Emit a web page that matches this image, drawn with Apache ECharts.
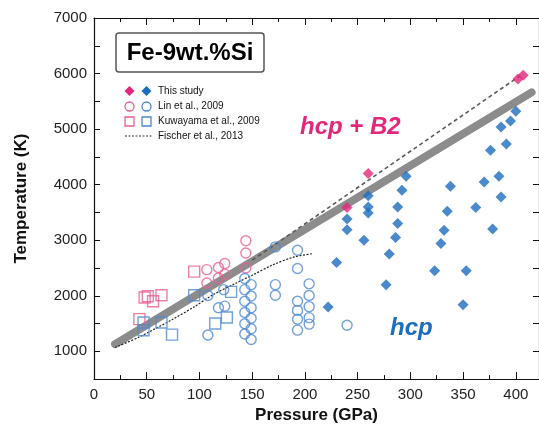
<!DOCTYPE html>
<html>
<head>
<meta charset="utf-8">
<script src="https://cdn.jsdelivr.net/npm/echarts@6/dist/echarts.min.js"></script>
<style>
  html, body { margin: 0; padding: 0; background: #fff; }
  #main { width: 539px; height: 429px; }
</style>
</head>
<body>
<div id="main"></div>
<script>
// pressure (GPa), temperature (K)
var thisStudyB2 = [[240, 3590], [260, 4200], [402, 5900], [407, 5970]];
var thisStudyHcp = [
  [240, 3380], [240, 3190], [260, 3800], [260, 3490], [260, 3600], [256, 3000], [230, 2600], [222, 1800],
  [296, 4150], [292, 3900], [288, 3600], [288, 3300], [286, 3050], [280, 2750], [277, 2200],
  [338, 3970], [335, 3520], [332, 3180], [329, 2940], [323, 2450], [353, 2450], [350, 1840],
  [362, 3590], [370, 4050], [378, 3200], [376, 4620], [384, 4150], [386, 3780],
  [386, 5040], [391, 4730], [395, 5145], [400, 5320]
];
var linB2 = [[107, 2470], [118, 2510], [124, 2580], [107, 2230], [118, 2320], [124, 2390], [144, 2990], [144, 2770], [144, 2500]];
var linHcp = [
  [108, 2005], [123, 2110], [118, 1783], [124, 1813], [108, 1295],
  [143, 2310], [143, 2110], [143, 1902], [143, 1700], [143, 1495], [143, 1311],
  [149, 2200], [149, 1995], [149, 1785], [149, 1595], [149, 1405], [149, 1212],
  [172, 2880], [172, 2200], [172, 2010],
  [193, 2820], [193, 2490], [193, 1900], [193, 1737], [193, 1577], [193, 1382],
  [204, 2215], [204, 2005], [204, 1805], [204, 1606], [204, 1490],
  [240, 1470]
];
var kuwB2 = [[95, 2435], [48, 1970], [51, 1990], [56, 1900], [64, 2010], [43, 1580]];
var kuwHcp = [[47, 1520], [47, 1380], [64, 1520], [74, 1300], [95, 2010], [130, 2070], [126, 1610], [115, 1500]];
var fischer = [[20, 1070], [42, 1250], [74, 1570], [95, 1800], [113, 2020], [135, 2230], [150, 2370], [170, 2560], [190, 2700], [208, 2760]];
var boundary = [[20, 1130], [415, 5660]];
var boundaryB2 = [[150, 2640], [404, 5960]];

var pink = '#e3287b';
var blue = '#1d6cbd';
var pinkOpen = '#ea5f93';
var blueOpen = '#4d88d2';
var font = 'Liberation Sans, Arial, Helvetica, sans-serif';

var myChart = echarts.init(document.getElementById('main'));

function openSeries(name, data, symbol, color, size) {
  return {
    name: name,
    type: 'scatter',
    data: data,
    symbol: symbol,
    symbolSize: size,
    itemStyle: { color: 'rgba(0,0,0,0)', borderColor: color, borderWidth: 1.4 },
    z: 4
  };
}

// legend drawn by hand (two symbol columns)
var lx1 = 129.5, lx2 = 146.5, ltx = 158;
var rows = [91, 106.5, 121.5, 136];
function diamond(cx, cy, r, color) {
  return { type: 'polygon', shape: { points: [[cx, cy - r], [cx + r, cy], [cx, cy + r], [cx - r, cy]] }, style: { fill: color } };
}
function legendText(y, t) {
  return { type: 'text', x: ltx, y: y, style: { text: t, font: '10px ' + font, fill: '#111', textVerticalAlign: 'middle' } };
}

myChart.setOption({
  animation: false,
  textStyle: { fontFamily: font },
  grid: { left: 94, top: 18, right: 0, bottom: 44 },
  xAxis: [{
    type: 'value', min: 0, max: 422, interval: 50, position: 'bottom',
    name: 'Pressure (GPa)', nameLocation: 'middle', nameGap: 27,
    nameTextStyle: { fontSize: 17, fontWeight: 'bold', color: '#111' },
    axisLine: { onZero: false, lineStyle: { color: '#111', width: 1.2 } },
    axisTick: { inside: true, length: 7, lineStyle: { color: '#111' } },
    minorTick: { show: true, splitNumber: 2, length: 4, lineStyle: { color: '#111' } },
    axisLabel: { margin: 8, fontSize: 15, color: '#222', showMaxLabel: false },
    splitLine: { show: false }
  }, {
    type: 'value', min: 0, max: 422, interval: 50, position: 'top',
    axisLine: { onZero: false, lineStyle: { color: '#111', width: 1.2 } },
    axisTick: { inside: true, length: 7, lineStyle: { color: '#111' } },
    minorTick: { show: true, splitNumber: 2, length: 4, lineStyle: { color: '#111' } },
    axisLabel: { show: false },
    splitLine: { show: false }
  }],
  yAxis: [{
    type: 'value', min: 500, max: 7000, interval: 500, position: 'left',
    name: 'Temperature (K)', nameLocation: 'middle', nameGap: 64, nameRotate: 90,
    nameTextStyle: { fontSize: 17, fontWeight: 'bold', color: '#111' },
    axisLine: { show: true, onZero: false, lineStyle: { color: '#111', width: 1.2 } },
    axisTick: { show: true, inside: true, length: 6, lineStyle: { color: '#111' } },
    axisLabel: {
      margin: 7, fontSize: 15, color: '#222',
      formatter: function (v) { return v % 1000 === 0 ? String(v) : ''; }
    },
    splitLine: { show: false }
  }, {
    type: 'value', min: 500, max: 7000, interval: 500, position: 'right',
    axisLine: { show: true, onZero: false, lineStyle: { color: '#111', width: 1.2 } },
    axisTick: { show: true, inside: true, length: 6, lineStyle: { color: '#111' } },
    axisLabel: { show: false },
    splitLine: { show: false }
  }],
  series: [{
    name: 'Boundary',
    type: 'line',
    data: boundary,
    symbol: 'none',
    lineStyle: { color: '#8c8c8c', width: 8, cap: 'round' },
    z: 2
  }, {
    name: 'Boundary B2',
    type: 'line',
    data: boundaryB2,
    symbol: 'none',
    lineStyle: { color: '#5a5a5a', width: 1.6, type: [4, 3] },
    z: 3
  }, {
    name: 'Fischer et al., 2013',
    type: 'line',
    data: fischer,
    symbol: 'none',
    smooth: 0.3,
    lineStyle: { color: '#222', width: 1.2, type: [2, 1.5] },
    z: 3
  },
    openSeries('Kuwayama et al., 2009 (B2)', kuwB2, 'rect', pinkOpen, 11),
    openSeries('Kuwayama et al., 2009', kuwHcp, 'rect', blueOpen, 11),
    openSeries('Lin et al., 2009 (B2)', linB2, 'circle', pinkOpen, 10),
    openSeries('Lin et al., 2009', linHcp, 'circle', blueOpen, 10),
  {
    name: 'This study (B2)',
    type: 'scatter',
    data: thisStudyB2,
    symbol: 'diamond',
    symbolSize: 11,
    itemStyle: { color: pink },
    z: 6
  }, {
    name: 'This study',
    type: 'scatter',
    data: thisStudyHcp,
    symbol: 'diamond',
    symbolSize: 11,
    itemStyle: { color: blue },
    z: 5
  }],
  graphic: [
    { type: 'rect', shape: { x: 116, y: 33, width: 148, height: 39, r: 3 }, style: { fill: '#fff', stroke: '#555', lineWidth: 1.5 }, z: 10 },
    { type: 'text', x: 190, y: 53, style: { text: 'Fe-9wt.%Si', font: 'bold 24px ' + font, fill: '#000', textAlign: 'center', textVerticalAlign: 'middle' }, z: 11 },
    diamond(lx1, rows[0], 5, pink),
    diamond(lx2, rows[0], 5, blue),
    { type: 'circle', shape: { cx: lx1, cy: rows[1], r: 4.5 }, style: { fill: 'none', stroke: pinkOpen, lineWidth: 1.3 } },
    { type: 'circle', shape: { cx: lx2, cy: rows[1], r: 4.5 }, style: { fill: 'none', stroke: blueOpen, lineWidth: 1.3 } },
    { type: 'rect', shape: { x: lx1 - 4.5, y: rows[2] - 4.5, width: 9, height: 9 }, style: { fill: 'none', stroke: pinkOpen, lineWidth: 1.3 } },
    { type: 'rect', shape: { x: lx2 - 4.5, y: rows[2] - 4.5, width: 9, height: 9 }, style: { fill: 'none', stroke: blueOpen, lineWidth: 1.3 } },
    { type: 'line', shape: { x1: 125, y1: rows[3], x2: 152, y2: rows[3] }, style: { stroke: '#333', lineWidth: 1, lineDash: [2, 1.5] } },
    legendText(rows[0], 'This study'),
    legendText(rows[1], 'Lin et al., 2009'),
    legendText(rows[2], 'Kuwayama et al., 2009'),
    legendText(rows[3], 'Fischer et al., 2013'),
    { type: 'text', x: 300, y: 127, style: { text: 'hcp + B2', font: 'italic bold 24px ' + font, fill: pink, textVerticalAlign: 'middle' } },
    { type: 'text', x: 390, y: 328, style: { text: 'hcp', font: 'italic bold 24px ' + font, fill: blue, textVerticalAlign: 'middle' } }
  ]
});
</script>
</body>
</html>
